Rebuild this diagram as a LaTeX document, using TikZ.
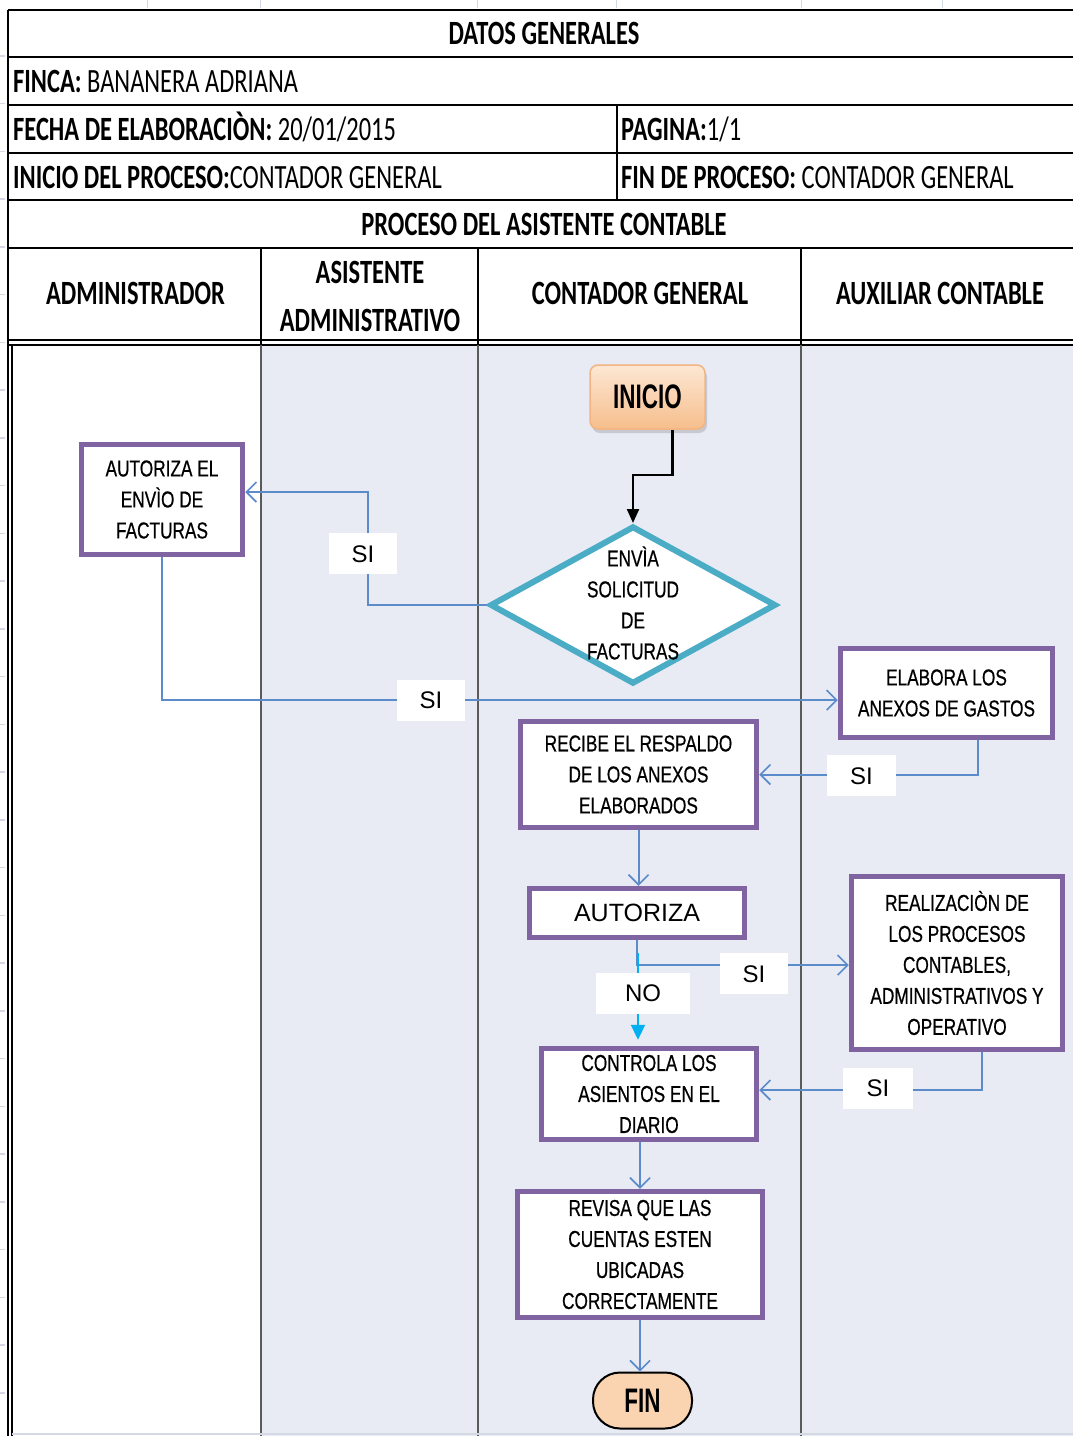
\documentclass[tikz,border=0pt]{standalone}
\usepackage{fontspec}
\newfontfamily\hdrfont[FakeStretch=0.72]{Carlito}
\newfontfamily\boxfont[FakeStretch=0.75,FakeBold=0.6]{Liberation Sans}
\newfontfamily\arfont{Liberation Sans}
\newfontfamily\termfont[FakeStretch=0.66]{Liberation Sans}
\usetikzlibrary{shapes.geometric,arrows.meta,calc,shadows}
\definecolor{lanebg}{HTML}{E8EAF4}
\definecolor{purp}{HTML}{8064A2}
\definecolor{connc}{HTML}{5B8BC9}
\definecolor{tealc}{HTML}{4BACC6}
\definecolor{peachc}{HTML}{FAD3B0}
\definecolor{cyanc}{HTML}{00B0F0}
\definecolor{gridc}{HTML}{D4D8E2}
\definecolor{lanel}{HTML}{5A5A5A}
\begin{document}
\begin{tikzpicture}[x=1pt,y=-1pt,
  hdr/.style={font=\hdrfont\fontsize{34}{48}\selectfont, inner sep=0pt, text height=22pt, text depth=0pt},
  hdrm/.style={font=\hdrfont\fontsize{34}{48}\selectfont, inner sep=0pt, align=center},
  proc/.style={draw=purp, line width=5.5pt, fill=white, inner sep=0pt, align=center,
    font=\boxfont\fontsize{23}{31}\selectfont},
  boxtxt/.style={inner sep=0pt, align=center, font=\boxfont\fontsize{23}{31}\selectfont},
  conn/.style={draw=connc, line width=2pt, -{Straight Barb[length=10pt,width=20pt,line width=1.6pt]}},
  blk/.style={draw=black, line width=2.2pt, -{Triangle[length=14pt,width=12pt]}},
  noarr/.style={draw=cyanc, line width=2.2pt, -{Triangle[length=15pt,width=14pt]}},
  lbl/.style={fill=white, inner sep=0pt, minimum height=41pt, text height=17pt, text depth=0pt,
    font=\arfont\fontsize{24}{24}\selectfont},
  tline/.style={draw=black, line width=2pt},
  lline/.style={draw=lanel, line width=1.5pt}
]
\useasboundingbox (0,0) rectangle (1073,1436);
\fill[white] (0,0) rectangle (1073,1436);
% faint spreadsheet grid marks
\foreach \gx in {147,260,477,616,801,942} \draw[gridc, line width=1pt] (\gx,0) -- (\gx,8);
\foreach \k in {0,...,21} \draw[gridc, line width=1.5pt] (0,390+47.75*\k) -- (5,390+47.75*\k);
\foreach \k in {1,...,7} \draw[gridc, line width=1.5pt] (0,390-47.75*\k) -- (5,390-47.75*\k);
% lanes background
\fill[lanebg] (261,345) rectangle (1073,1436);
% table lines
\foreach \ty in {10,57,105,153,200,248,340,345} \draw[tline] (8,\ty) -- (1073,\ty);
\draw[tline] (8,10) -- (8,1436);
\draw[tline] (12,345) -- (12,1436);
\draw[tline] (617,105) -- (617,200);
\foreach \lx in {261,478,801} {
  \draw[tline, line width=1.5pt] (\lx,248) -- (\lx,345);
  \draw[lline] (\lx,345) -- (\lx,1436);
}
\draw[gridc, line width=1.5pt] (12,1434) -- (1073,1434);
% header texts
\node[hdr] (t1) at (544,33.5) {\bfseries DATOS GENERALES};
\node[hdr, anchor=west] (t2) at (13,81) {\bfseries FINCA:\mdseries{} BANANERA ADRIANA};
\node[hdr, anchor=west] (t3) at (13,129) {\bfseries FECHA DE ELABORACIÒN:\mdseries{} 20/01/2015};
\node[hdr, anchor=west] (t4) at (621,129) {\bfseries PAGINA:\mdseries 1/1};
\node[hdr, anchor=west] (t5) at (13,177) {\bfseries INICIO DEL PROCESO:\mdseries CONTADOR GENERAL};
\node[hdr, anchor=west] (t6) at (621,177) {\bfseries FIN DE PROCESO:\mdseries{} CONTADOR GENERAL};
\node[hdr] (t7) at (544,224) {\bfseries PROCESO DEL ASISTENTE CONTABLE};
\node[hdr] (h1) at (135.5,293) {\bfseries ADMINISTRADOR};
\node[hdrm] (h2) at (370,296) {\bfseries ASISTENTE\\\bfseries ADMINISTRATIVO};
\node[hdr] (h3) at (640,293) {\bfseries CONTADOR GENERAL};
\node[hdr] (h4) at (940,293) {\bfseries AUXILIAR CONTABLE};
% flow nodes
\node[draw={rgb,255:red,242;green,180;blue,130}, line width=1.5pt, rounded corners=8pt,
  top color={rgb,255:red,253;green,231;blue,212}, bottom color={rgb,255:red,246;green,190;blue,140},
  drop shadow={shadow xshift=2pt, shadow yshift=-4pt, opacity=0.3},
  minimum width=115pt, minimum height=64pt, inner sep=0pt,
  font=\termfont\bfseries\fontsize{34}{34}\selectfont] (ini) at (647.5,397) {INICIO};
\node[diamond, draw=tealc, line width=6pt, fill=white, minimum width=286pt, minimum height=158pt,
  inner sep=0pt] (dia) at (633,605) {};
\node[boxtxt] (diat) at (633,603) {ENVÌA\\SOLICITUD\\DE\\FACTURAS};
\node[proc, minimum width=161pt, minimum height=110pt] (autel) at (162,499.5) {AUTORIZA EL\\ENVÌO DE\\FACTURAS};
\node[proc, minimum width=212pt, minimum height=89pt] (elab) at (946.5,693) {ELABORA LOS\\ANEXOS DE GASTOS};
\node[proc, minimum width=236pt, minimum height=106pt] (recibe) at (638.5,774.5) {RECIBE EL RESPALDO\\DE LOS ANEXOS\\ELABORADOS};
\node[proc, minimum width=215pt, minimum height=49pt, font=\arfont\fontsize{25}{25}\selectfont] (autz) at (637,913) {AUTORIZA};
\node[proc, minimum width=211pt, minimum height=173pt] (realiz) at (957,963) {REALIZACIÒN DE\\LOS PROCESOS\\CONTABLES,\\ADMINISTRATIVOS Y\\OPERATIVO};
\node[proc, minimum width=215pt, minimum height=91pt] (ctrl) at (649,1094) {CONTROLA LOS\\ASIENTOS EN EL\\DIARIO};
\node[proc, minimum width=245pt, minimum height=126pt] (rev) at (640,1254.5) {REVISA QUE LAS\\CUENTAS ESTEN\\UBICADAS\\CORRECTAMENTE};
\node[draw=black, line width=2pt, fill=peachc, rounded corners=27pt, minimum width=99pt, minimum height=56pt,
  inner sep=0pt, font=\termfont\bfseries\fontsize{34}{34}\selectfont] (fin) at (642.5,1400.5) {FIN};
% connectors
\draw[blk] ([xshift=25pt]ini.south) -- ++(0,45) -| (dia.north);
\draw[conn] (dia.west) -- ++(-119,0) |- ([yshift=7.5pt]autel.east);
\draw[conn] (autel.south) |- ([yshift=-7pt]elab.west);
\draw[conn] ([xshift=31.5pt]elab.south) |- (recibe.east);
\draw[conn] (recibe.south) -- (recibe.south |- autz.north);
\draw[conn] (autz.south) |- ([yshift=-2pt]realiz.west);
\draw[noarr] ($(autz.south)+(1,13)$) -- ($(autz.south |- ctrl.north)+(1,-6)$);
\draw[conn] ([xshift=25pt]realiz.south) |- ([yshift=4pt]ctrl.east);
\draw[conn] (ctrl.south -| rev.north) -- (rev.north);
\draw[conn] (rev.south) -- (rev.south |- fin.north);
% labels
\node[lbl, minimum width=68pt] (s1) at (363,553.5) {SI};
\node[lbl, minimum width=68pt] (s2) at (431,700) {SI};
\node[lbl, minimum width=69pt] (s3) at (861.5,775.5) {SI};
\node[lbl, minimum width=68pt] (s4) at (754,973.5) {SI};
\node[lbl, minimum width=94pt] (n1) at (643,993) {NO};
\node[lbl, minimum width=70pt] (s5) at (878,1088) {SI};
\end{tikzpicture}
\end{document}
